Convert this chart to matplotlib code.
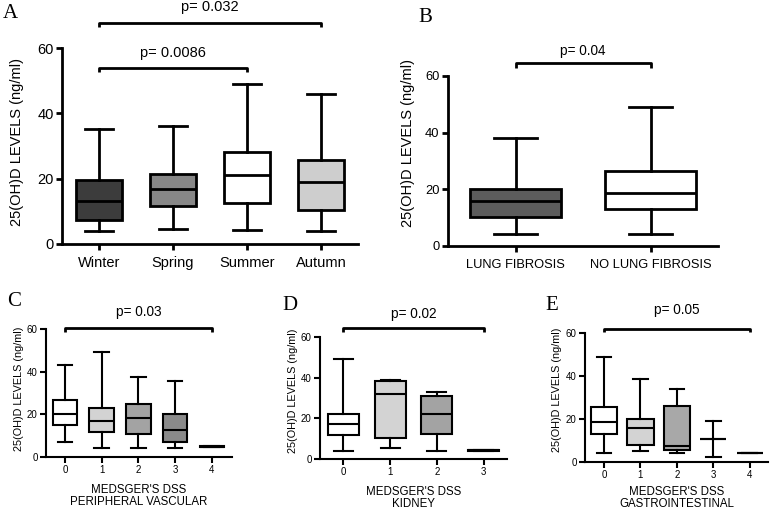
import matplotlib
matplotlib.use("Agg")
import matplotlib.pyplot as plt

plt.rcParams['font.family'] = ['Liberation Sans', 'DejaVu Sans']

# ---------------- data ----------------
A_labels = ['Winter', 'Spring', 'Summer', 'Autumn']
A_whislo = [4.1, 4.5, 4.2, 4.1]
A_q1 = [7.2, 11.7, 12.5, 10.5]
A_med = [13.2, 16.8, 21.2, 19.1]
A_q3 = [19.6, 21.4, 28.1, 25.7]
A_whishi = [35.1, 36.2, 48.9, 45.9]
A_colors = ['#3c3c3c', '#878787', '#ffffff', '#cecece']

B_labels = ['LUNG FIBROSIS', 'NO LUNG FIBROSIS']
B_whislo = [4.4, 4.4]
B_q1 = [10.2, 13.2]
B_med = [15.9, 18.8]
B_q3 = [20.2, 26.5]
B_whishi = [38.0, 49.1]
B_colors = ['#5c5c5c', '#ffffff']

C_labels = ['0', '1', '2', '3', '4']
C_whislo = [6.9, 4.2, 4.2, 4.2, 4.5]
C_q1 = [15.0, 11.9, 10.8, 6.9, 4.5]
C_med = [20.3, 16.9, 18.4, 12.7, 4.8]
C_q3 = [26.7, 23.0, 25.0, 20.3, 5.2]
C_whishi = [43.3, 49.2, 37.5, 35.5, 5.2]
C_colors = ['#ffffff', '#d3d3d3', '#a3a3a3', '#8a8a8a', '#8a8a8a']

D_labels = ['0', '1', '2', '3']
D_whislo = [4.1, 5.4, 4.1, 4.0]
D_q1 = [12.0, 10.5, 12.3, 4.0]
D_med = [17.2, 32.1, 22.1, 4.3]
D_q3 = [22.1, 38.4, 31.0, 4.6]
D_whishi = [49.2, 38.7, 33.1, 4.6]
D_colors = ['#ffffff', '#d3d3d3', '#a3a3a3', '#8a8a8a']

E_labels = ['0', '1', '2', '3', '4']
E_whislo = [4.2, 5.1, 4.2, 2.3, 4.2]
E_q1 = [13.2, 7.9, 5.6, 10.9, 4.2]
E_med = [18.8, 15.6, 7.5, 10.9, 4.2]
E_q3 = [25.5, 20.1, 26.2, 10.9, 4.2]
E_whishi = [48.9, 38.5, 34.1, 19.3, 4.2]
E_colors = ['#ffffff', '#d3d3d3', '#a8a8a8', '#ffffff', '#ffffff']

YLABEL = '25(OH)D LEVELS (ng/ml)'

W, H = 771, 509
fig = plt.figure(figsize=(W / 100, H / 100), dpi=100)


def px_axes(l, r, t, b):
    return fig.add_axes([l / W, 1 - b / H, (r - l) / W, (b - t) / H])


def draw_panel(ax, labels, wlo, q1, med, q3, whi, colors, positions,
               bw, cw, lw, tsize, ysize, xlim, ylab_pos, xpad):
    stats = []
    for i in range(len(labels)):
        stats.append(dict(med=med[i], q1=q1[i], q3=q3[i], whislo=wlo[i],
                          whishi=whi[i], fliers=[]))
    art = ax.bxp(stats, positions=positions, widths=bw, capwidths=cw,
                 patch_artist=True, showfliers=False,
                 boxprops=dict(edgecolor='black', linewidth=lw),
                 whiskerprops=dict(color='black', linewidth=lw),
                 capprops=dict(color='black', linewidth=lw),
                 medianprops=dict(color='black', linewidth=lw),
                 manage_ticks=False)
    for patch, c in zip(art['boxes'], colors):
        patch.set_facecolor(c)
    ax.set_xlim(*xlim)
    ax.set_ylim(0, 60)
    ax.set_yticks([0, 20, 40, 60])
    ax.set_xticks(positions)
    ax.set_xticklabels(labels)
    for s in ['top', 'right']:
        ax.spines[s].set_visible(False)
    for s in ['left', 'bottom']:
        ax.spines[s].set_linewidth(lw)
    ax.tick_params(axis='both', direction='out', width=lw, length=4,
                   labelsize=tsize, pad=2)
    ax.tick_params(axis='x', pad=xpad)
    ax.set_ylabel(YLABEL, fontsize=ysize, va='center')
    ax.yaxis.set_label_coords(*ylab_pos)


def bracket(ax, x1, x2, y, ytick, text, ty, lw, fs):
    ax.plot([x1, x1, x2, x2], [ytick, y, y, ytick], color='black',
            linewidth=lw, clip_on=False, solid_capstyle='butt')
    ax.text((x1 + x2) / 2, ty, text, ha='center', va='center',
            fontsize=fs, clip_on=False)


# Panel A
axA = px_axes(62, 358, 48, 244)
draw_panel(axA, A_labels, A_whislo, A_q1, A_med, A_q3, A_whishi, A_colors,
           [1, 2, 3, 4], 0.61, 0.38, 2.0, 10.5, 10.5, (0.5, 4.5),
           (-0.152, 0.52), 4.5)
bracket(axA, 1, 4, 67.7, 66.3, 'p= 0.032', 72.5, 2.0, 10.5)
bracket(axA, 1, 3, 53.9, 52.6, 'p= 0.0086', 58.5, 2.0, 10.5)

# Panel B
axB = px_axes(448, 718, 76, 246)
draw_panel(axB, B_labels, B_whislo, B_q1, B_med, B_q3, B_whishi, B_colors,
           [1, 2], 0.67, 0.32, 2.0, 9.3, 10.5, (0.5, 2.5),
           (-0.148, 0.606), 5.5)
bracket(axB, 1, 2, 64.6, 62.8, 'p= 0.04', 68.8, 2.0, 9.8)

# Panel C
axC = px_axes(46, 232, 329, 457)
draw_panel(axC, C_labels, C_whislo, C_q1, C_med, C_q3, C_whishi, C_colors,
           [0, 1, 2, 3, 4], 0.67, 0.4, 1.5, 7, 7.8, (-0.52, 4.55),
           (-0.145, 0.53), 2)
bracket(axC, 0, 4, 60.6, 58.6, 'p= 0.03', 67.8, 2.0, 9.8)
axC.set_xlabel("MEDSGER'S DSS\nPERIPHERAL VASCULAR", fontsize=8.3,
               linespacing=1.05, labelpad=6)

# Panel D
axD = px_axes(320, 507, 337, 459)
draw_panel(axD, D_labels, D_whislo, D_q1, D_med, D_q3, D_whishi, D_colors,
           [0, 1, 2, 3], 0.66, 0.41, 1.5, 7, 7.8, (-0.5, 3.5),
           (-0.144, 0.557), 2)
bracket(axD, 0, 3, 64.5, 62.5, 'p= 0.02', 71.4, 2.0, 9.8)
axD.set_xlabel("MEDSGER'S DSS\nKIDNEY", fontsize=8.3, linespacing=1.05,
               labelpad=6)

# Panel E
axE = px_axes(585, 768, 333, 462)
draw_panel(axE, E_labels, E_whislo, E_q1, E_med, E_q3, E_whishi, E_colors,
           [0, 1, 2, 3, 4], 0.72, 0.4, 1.5, 7, 7.8, (-0.52, 4.5),
           (-0.153, 0.562), 2)
bracket(axE, 0, 4, 61.9, 60.4, 'p= 0.05', 70.7, 2.0, 9.8)
axE.set_xlabel("MEDSGER'S DSS\nGASTROINTESTINAL", fontsize=8.3,
               linespacing=1.05, labelpad=4)

# Panel letters
for lbl, x, y in [('A', 3, 14), ('B', 418, 17), ('C', 7, 301),
                  ('D', 282, 305), ('E', 545, 305)]:
    fig.text(x / W, 1 - y / H, lbl, family='Liberation Serif', fontsize=15,
             ha='left', va='center')

fig.savefig('out.png', dpi=100, facecolor='white')
